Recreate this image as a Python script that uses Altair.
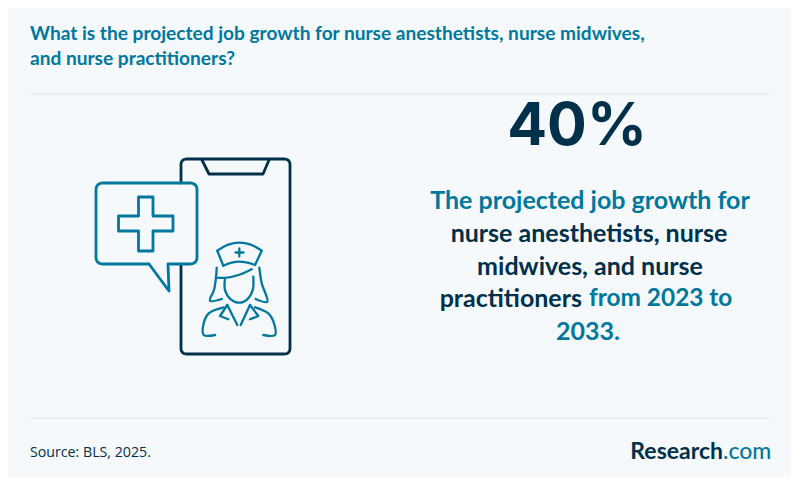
import altair as alt
import pandas as pd

BG = "#F5F9FB"
TEAL = "#00789E"
DARK = "#00304A"
RULE = "#DCE2E5"

# reference-image coordinates
X_DOMAIN = [8, 791]
Y_DOMAIN = [477, 8]

title_lines = ["What is the projected job growth for nurse anesthetists, nurse midwives,", "and nurse practitioners?"]
title_y = [33.5, 58.5]
big_value = "40%"
teal_line_1 = "The projected job growth for"
dark_lines = ["nurse anesthetists, nurse", "midwives, and nurse"]
mixed_dark = "practitioners"
mixed_teal = "from 2023 to"
teal_line_5 = "2033."
source_text = "Source: BLS, 2025."
logo_dark = "Research"
logo_teal = ".com"
rule_y = [94, 418]

# icon outlines: lists of (x, y) vertices in picture pixels
phone_outline = [(181, 183), (181, 164), (181.4, 162), (182.5, 160.5), (184, 159.5), (186, 159),
                 (285, 159), (287, 159.5), (288.5, 160.5), (289.6, 162), (290, 164),
                 (290, 349), (289.6, 351), (288.5, 352.5), (287, 353.6), (285, 354),
                 (186, 354), (184, 353.6), (182.5, 352.5), (181.4, 351), (181, 349), (181, 265)]
phone_notch = [(202, 160), (209, 174), (263, 174), (269, 160)]
bubble_outline = [(149, 264), (102, 264), (99.5, 263.4), (97.6, 262), (96.4, 260), (96, 258),
                  (96, 189), (96.4, 187), (97.6, 185), (99.5, 183.6), (102, 183),
                  (191, 183), (193.5, 183.6), (195.4, 185), (196.6, 187), (197, 189),
                  (197, 258), (196.6, 260), (195.4, 262), (193.5, 263.4), (191, 264),
                  (168, 264), (169, 291), (149, 264)]
plus_outline = [(138.5, 197), (153, 197), (153, 216), (173, 216), (173, 231), (153, 231), (153, 251),
                (138.5, 251), (138.5, 231), (118.5, 231), (118.5, 216), (138.5, 216), (138.5, 197)]

nurse_straight = [
    [(217.3, 250.7), (223.3, 265.7)],
    [(261.7, 250.7), (255, 265)],
    [(239.3, 248.5), (239.3, 256.5)],
    [(235.5, 252.5), (243.5, 252.5)],
    [(227.3, 305), (220, 316), (228.3, 319.3)],
    [(227.3, 305), (237.3, 325)],
    [(250, 305), (240.7, 325)],
    [(250, 305), (258.3, 316), (250, 319.3)],
]
nurse_curves = [
    [(217.3, 250.7), (228.3, 244.7), (239.3, 242.7), (250.7, 244.7), (261.7, 250.7)],
    [(223.3, 265.7), (231.7, 262.7), (239.3, 261.7), (247.3, 262.7), (255, 265)],
    [(216, 277.7), (226.7, 277.7), (240, 274.5), (251.7, 269.3)],
    [(216.7, 267.7), (216, 277.7), (214, 290), (210, 300.7), (221.7, 299)],
    [(259.3, 267.7), (261.7, 283.3), (267.3, 301.7), (255.7, 299)],
    [(225, 278.3), (225, 290), (230.7, 299.3), (239.3, 302.7), (247.3, 299.3), (252.7, 290), (253.3, 276.7)],
    [(215, 335), (203.7, 335), (203.7, 323.3), (208.7, 313.3), (223.7, 307.3)],
    [(255, 307.3), (268.3, 313.3), (274, 323.3), (275, 335), (263.3, 335)],
]

x_enc = alt.X("x:Q", scale=alt.Scale(domain=X_DOMAIN), axis=None)
y_enc = alt.Y("y:Q", scale=alt.Scale(domain=Y_DOMAIN), axis=None)


def path_frame(paths):
    rows = []
    for i, path in enumerate(paths):
        for j, (x, y) in enumerate(path):
            rows.append({"x": x, "y": y, "path": i, "step": j})
    return pd.DataFrame(rows)


def line_layer(paths, color, width, interpolate="linear"):
    return alt.Chart(path_frame(paths)).mark_line(
        color=color, strokeWidth=width, interpolate=interpolate,
        strokeCap="round", strokeJoin="round",
    ).encode(x=x_enc, y=y_enc, detail="path:N", order="step:Q")


def text_layer(rows, **props):
    return alt.Chart(pd.DataFrame(rows)).mark_text(baseline="middle", **props).encode(
        x=x_enc, y=y_enc, text="label:N")


rules = alt.Chart(pd.DataFrame({"x": [30, 30], "x2": [770, 770], "y": rule_y})).mark_rule(
    color=RULE, strokeWidth=1).encode(x=x_enc, x2="x2:Q", y=y_enc)

BODY = dict(font="Lato", fontWeight=700, fontSize=25)
layers = [
    rules,
    line_layer([phone_outline, phone_notch], DARK, 2.8),
    line_layer([bubble_outline, plus_outline], TEAL, 2.8),
    line_layer(nurse_straight, TEAL, 2.3),
    line_layer(nurse_curves, TEAL, 2.3, "catmull-rom"),
    text_layer([{"label": t, "x": 30, "y": y} for t, y in zip(title_lines, title_y)],
               font="Lato", fontWeight=700, fontSize=19.1, color=TEAL, align="left"),
    text_layer([{"label": big_value, "x": 577, "y": 127}],
               font="Inter", fontWeight=700, fontSize=59, color=DARK, align="center"),
    text_layer([{"label": teal_line_1, "x": 590, "y": 201}, {"label": teal_line_5, "x": 588, "y": 332}],
               color=TEAL, align="center", **BODY),
    text_layer([{"label": dark_lines[0], "x": 589, "y": 234}, {"label": dark_lines[1], "x": 590, "y": 267}],
               color=DARK, align="center", **BODY),
    text_layer([{"label": mixed_dark, "x": 582, "y": 299}], color=DARK, align="right", **BODY),
    text_layer([{"label": mixed_teal, "x": 589, "y": 299}], color=TEAL, align="left",
               font="Lato", fontWeight=700, fontSize=24.4),
    text_layer([{"label": source_text, "x": 30, "y": 453}],
               font="Open Sans", fontWeight=500, fontSize=14.2, color=DARK, align="left"),
    text_layer([{"label": logo_dark, "x": 723, "y": 452}],
               font="Lato", fontWeight=700, fontSize=23, color=DARK, align="right"),
    text_layer([{"label": logo_teal, "x": 723, "y": 452}],
               font="Lato", fontWeight=500, fontSize=23, color=TEAL, align="left"),
]

chart = alt.layer(*layers).properties(
    width=783, height=469, background=BG, padding=0,
    autosize=alt.AutoSizeParams(type="none"),
).configure_view(stroke=None)

chart.save("out.html", embed_options={"renderer": "svg", "actions": False})
